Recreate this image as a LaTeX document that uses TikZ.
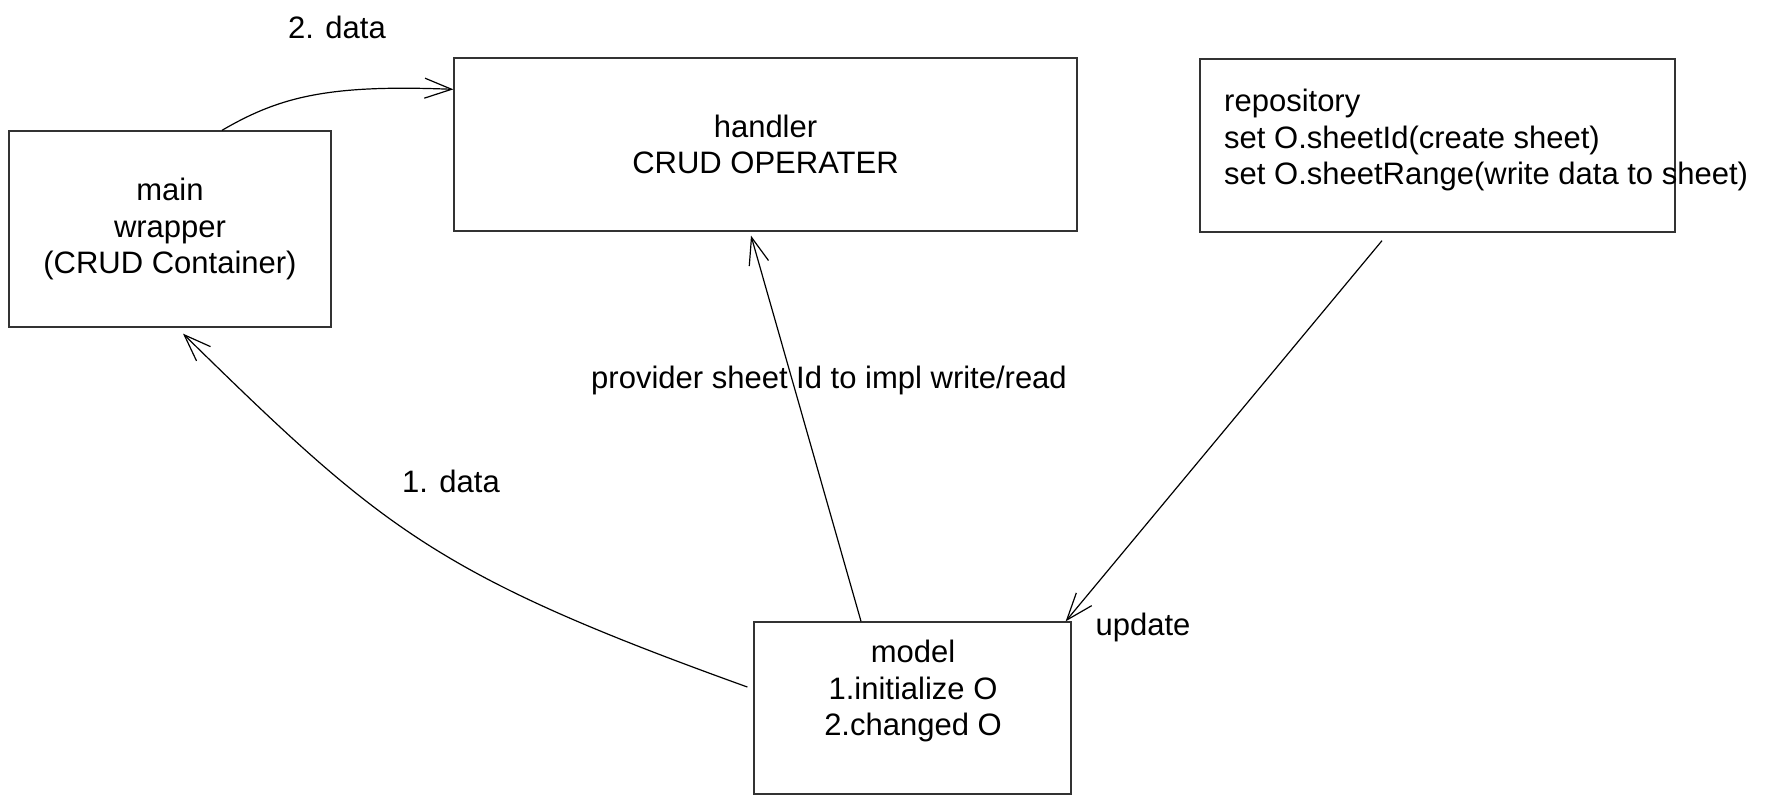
\documentclass[tikz,border=0pt]{standalone}
\usepackage{fontspec}
\setmainfont{Liberation Sans}
\usetikzlibrary{arrows.meta}
\begin{document}
\begin{tikzpicture}[x=1pt,y=-1pt,
  box/.style={draw=black!80,line width=1.3pt,rectangle,inner sep=0pt},
  txt/.style={font=\fontsize{31}{36.5}\selectfont,inner sep=0pt,align=center},
  conn/.style={draw=black,line width=1.2pt,-{Straight Barb[length=27pt,width=20pt,line join=miter]}}]
\useasboundingbox (0,0) rectangle (1784,806);
% boxes
\node[box,txt,minimum width=322pt,minimum height=196pt] (main) at (170,229)
  {main\\wrapper\\(CRUD Container)};
\node[box,txt,minimum width=623pt,minimum height=173pt] (handler) at (765.5,144.5)
  {handler\\CRUD OPERATER};
\node[box,minimum width=475pt,minimum height=173pt] (repo) at (1437.5,145.5) {};
\node[box,minimum width=317pt,minimum height=172pt] (model) at (912.5,708) {};
% box texts
\node[txt,align=left,anchor=west] (repotext) at (1224,140)
  {repository\\set O.sheetId(create sheet)\\set O.sheetRange(write data to sheet)};
\node[txt] (modeltext) at (913,691) {model\\1.initialize O\\2.changed O};
% labels
\node[txt] (lbltwo) at (337,27) {2. data};
\node[txt] (lblone) at (451,481) {1. data};
\node[txt] (lblprov) at (829,380) {provider sheet Id to impl write/read};
\node[txt] (lblupd) at (1143,627) {update};
% connectors
\draw[conn] ([xshift=52pt]main.north) .. controls +(58,-34) and +(-124,-5) .. ([yshift=-32pt]handler.north west);
\draw[conn] ([xshift=-6pt,yshift=21pt]model.west) .. controls +(-311,-112) and +(200,196) .. ([xshift=13pt,yshift=-6pt]main.south);
\draw[conn] ([xshift=-51.5pt]model.north) -- ([xshift=-14.5pt,yshift=-4pt]handler.south);
\draw[conn] ([xshift=-55.5pt,yshift=-8pt]repo.south) -- ([xshift=-6pt]model.north east);
\end{tikzpicture}
\end{document}
